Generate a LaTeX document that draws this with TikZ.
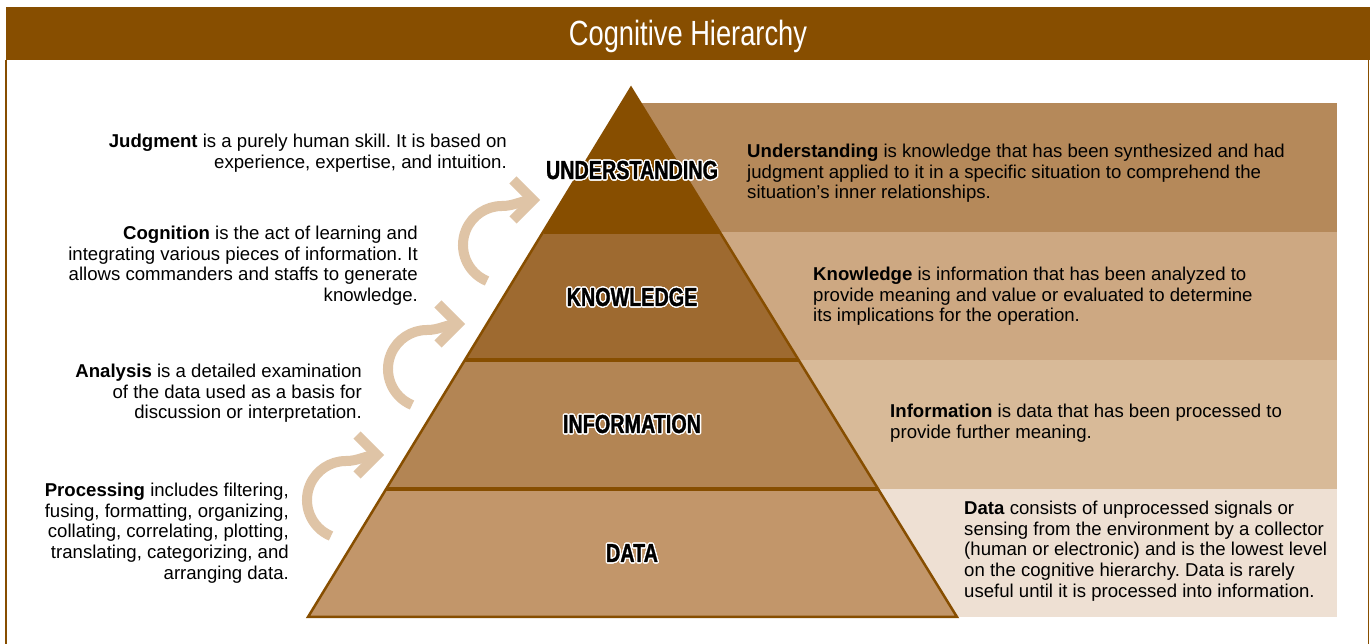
\documentclass[tikz,border=0pt]{standalone}
\usepackage{fontspec}
\setmainfont{Liberation Sans}
\newfontfamily\condfont[FakeStretch=0.76,BoldFeatures={FakeBold=1.2}]{Liberation Sans}
\newfontfamily\titlefont[FakeStretch=0.78]{Liberation Sans}
\usepackage[copies]{contour}
\contourlength{1.3pt}
\contournumber{16}
\frenchspacing
\definecolor{hbrown}{RGB}{135,78,0}
\definecolor{cUnd}{RGB}{135,78,0}
\definecolor{cKno}{RGB}{158,106,48}
\definecolor{cInf}{RGB}{179,133,84}
\definecolor{cDat}{RGB}{194,150,106}
\definecolor{cBa}{RGB}{181,137,90}
\definecolor{cBb}{RGB}{205,168,130}
\definecolor{cBc}{RGB}{216,186,152}
\definecolor{cBd}{RGB}{238,224,211}
\definecolor{cArr}{RGB}{223,196,166}
\newcommand{\halotext}[1]{\contour{white}{#1}}
\newcommand{\cogarrow}[2]{%
  \begin{scope}[shift={(#1,#2)}]
    \draw[arrstroke] (-53,-81) arc[start angle=247.4,end angle=90,radius=39] to[out=0,in=185] (-8,0);
    \draw[arrstroke,line join=miter] (-27,20) -- (-7,0) -- (-27,-20);
  \end{scope}}
\tikzset{
  arrstroke/.style={draw=cArr,line width=10pt,line cap=butt},
  lbl/.style={font=\condfont\bfseries\fontsize{26}{30}\selectfont,text=black,inner sep=0pt,anchor=base},
  desc/.style={font=\fontsize{18.6}{20.6}\selectfont,text=black,inner sep=0pt},
  ldesc/.style={desc,align=right,anchor=north east},
  rdesc/.style={desc,align=left,anchor=north west},
  sep/.style={draw=hbrown,line width=3.5pt},
}
\begin{document}
\begin{tikzpicture}[x=1pt,y=1pt]
\useasboundingbox (0,0) rectangle (1372,644);
\fill[white] (0,0) rectangle (1372,644);
% frame and title bar
\draw[hbrown,line width=1.5pt] (6,584) -- (6,0);
\draw[hbrown,line width=1.5pt] (1368.5,584) -- (1368.5,0);
\fill[hbrown] (6,584) rectangle (1370,637);
\node[font=\titlefont\fontsize{35}{40}\selectfont,text=white,inner sep=0pt,anchor=base] (title) at (688,598) {Cognitive Hierarchy};
% right bands
\fill[cBa] (632,412) rectangle (1337,541);
\fill[cBb] (632,284) rectangle (1337,412);
\fill[cBc] (632,155) rectangle (1337,284);
\fill[cBd] (632,27) rectangle (1337,155);
% pyramid
\fill[cUnd] (631,556) -- (720.3,412) -- (543.7,412) -- cycle;
\fill[cKno] (543.7,412) -- (720.3,412) -- (798.8,284) -- (465.2,284) -- cycle;
\fill[cInf] (465.2,284) -- (798.8,284) -- (878,155) -- (386,155) -- cycle;
\fill[cDat] (386,155) -- (878,155) -- (957,27) -- (308,27) -- cycle;
\draw[sep] (543.7,412) -- (720.3,412);
\draw[sep] (465.2,284) -- (798.8,284);
\draw[sep] (386,155) -- (878,155);
\draw[hbrown,line width=2.5pt,line join=miter] (631,556) -- (957,27) -- (308,27) -- cycle;
% pyramid labels
\node[lbl] (und) at (632,465) {\halotext{UNDERSTANDING}};
\node[lbl] (kno) at (632,338) {\halotext{KNOWLEDGE}};
\node[lbl] (inf) at (632,211) {\halotext{INFORMATION}};
\node[lbl] (dat) at (632,82) {\halotext{DATA}};
% arrows
\cogarrow{540}{444}
\cogarrow{465}{320}
\cogarrow{384}{189}
% left descriptions
\node[ldesc] (judg) at (507,510) {\textbf{Judgment} is a purely human skill. It is based on\\experience, expertise, and intuition.};
\node[ldesc] (cogn) at (418,418) {\textbf{Cognition} is the act of learning and\\integrating various pieces of information. It\\allows commanders and staffs to generate\\knowledge.};
\node[ldesc] (anal) at (362,280) {\textbf{Analysis} is a detailed examination\\of the data used as a basis for\\discussion or interpretation.};
\node[ldesc] (proc) at (289,161) {\textbf{Processing} includes filtering,\\fusing, formatting, organizing,\\collating, correlating, plotting,\\translating, categorizing, and\\arranging data.};
% right descriptions
\node[rdesc] (dund) at (747,500) {\textbf{Understanding} is knowledge that has been synthesized and had\\judgment applied to it in a specific situation to comprehend the\\situation’s inner relationships.};
\node[rdesc] (dkno) at (813,377) {\textbf{Knowledge} is information that has been analyzed to\\provide meaning and value or evaluated to determine\\its implications for the operation.};
\node[rdesc] (dinf) at (890,240) {\textbf{Information} is data that has been processed to\\provide further meaning.};
\node[rdesc] (ddat) at (964,143) {\textbf{Data} consists of unprocessed signals or\\sensing from the environment by a collector\\(human or electronic) and is the lowest level\\on the cognitive hierarchy. Data is rarely\\useful until it is processed into information.};
\end{tikzpicture}
\end{document}
